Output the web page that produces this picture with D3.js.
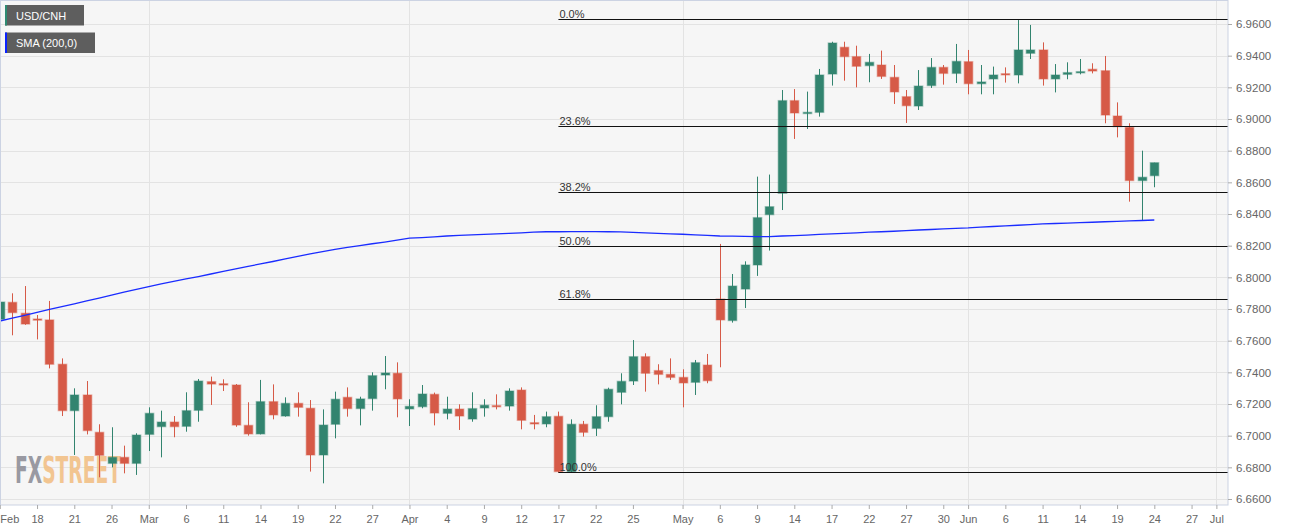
<!DOCTYPE html>
<html>
<head>
<meta charset="utf-8">
<script src="https://cdn.jsdelivr.net/npm/d3@7"></script>
<style>
  body { margin: 0; background: #fff; }
  svg { display: block; font-family: "Liberation Sans", Arial, sans-serif; }
</style>
</head>
<body>
<svg id="chart"></svg>
<script>
// daily USD/CNH candles, 13 Feb - 24 Jun 2019 (weekdays)
const openPx = [6.7735, 6.7842, 6.7773, 6.7737, 6.7731, 6.7451, 6.7158, 6.7257, 6.7021, 6.6825,
  6.6863, 6.6825, 6.7008, 6.7057, 6.7086, 6.7059, 6.7160, 6.7341, 6.7328, 6.7320,
  6.7065, 6.7011, 6.7215, 6.7124, 6.7204, 6.7173, 6.6878, 6.7072, 6.7242, 6.7171,
  6.7234, 6.7383, 6.7394, 6.7169, 6.7183, 6.7261, 6.7141, 6.7168, 6.7105, 6.7175,
  6.7190, 6.7187, 6.7288, 6.7082, 6.7074, 6.7122, 6.6773, 6.7072, 6.7046, 6.7120,
  6.7274, 6.7345, 6.7499, 6.7411, 6.7387, 6.7368, 6.7337, 6.7446, 6.7863, 6.7727,
  6.7926, 6.8078, 6.8396, 6.8531, 6.9116, 6.9036, 6.9042, 6.9284, 6.9453, 6.9394,
  6.9337, 6.9341, 6.9263, 6.9141, 6.9082, 6.9211, 6.9326, 6.9288, 6.9362, 6.9223,
  6.9253, 6.9286, 6.9278, 6.9415, 6.9436, 6.9253, 6.9282, 6.9293, 6.9314, 6.9305,
  6.9019, 6.8947, 6.8611, 6.8642];
const highPx = [6.7862, 6.7899, 6.7945, 6.7762, 6.7851, 6.7488, 6.7299, 6.7345, 6.7072, 6.7053,
  6.6937, 6.7015, 6.7179, 6.7158, 6.7124, 6.7274, 6.7358, 6.7373, 6.7356, 6.7326,
  6.7211, 6.7352, 6.7324, 6.7242, 6.7274, 6.7225, 6.7166, 6.7278, 6.7305, 6.7246,
  6.7400, 6.7503, 6.7463, 6.7230, 6.7320, 6.7272, 6.7246, 6.7198, 6.7274, 6.7230,
  6.7261, 6.7299, 6.7305, 6.7131, 6.7152, 6.7152, 6.7103, 6.7093, 6.7192, 6.7303,
  6.7394, 6.7604, 6.7520, 6.7451, 6.7488, 6.7419, 6.7478, 6.7516, 6.8211, 6.8021,
  6.8101, 6.8636, 6.8649, 6.9183, 6.9189, 6.9173, 6.9316, 6.9488, 6.9488, 6.9463,
  6.9411, 6.9432, 6.9341, 6.9183, 6.9309, 6.9385, 6.9341, 6.9474, 6.9436, 6.9341,
  6.9331, 6.9326, 6.9625, 6.9594, 6.9484, 6.9347, 6.9358, 6.9379, 6.9352, 6.9398,
  6.9105, 6.8973, 6.8800, 6.8724];
const lowPx = [6.7594, 6.7634, 6.7700, 6.7608, 6.7425, 6.7124, 6.6878, 6.7008, 6.6737, 6.6800,
  6.6762, 6.6752, 6.6903, 6.6863, 6.6990, 6.7025, 6.7088, 6.7194, 6.7282, 6.7056,
  6.7000, 6.7008, 6.7103, 6.7120, 6.7120, 6.6773, 6.6699, 6.6983, 6.7120, 6.7065,
  6.7158, 6.7293, 6.7116, 6.7061, 6.7173, 6.7065, 6.7103, 6.7036, 6.7088, 6.7120,
  6.7166, 6.7158, 6.7040, 6.7040, 6.7053, 6.6766, 6.6768, 6.6994, 6.6998, 6.7088,
  6.7198, 6.7320, 6.7278, 6.7324, 6.7352, 6.7179, 6.7257, 6.7331, 6.7432, 6.7714,
  6.7806, 6.8009, 6.8169, 6.8425, 6.8874, 6.8937, 6.9015, 6.9211, 6.9242, 6.9200,
  6.9232, 6.9253, 6.9095, 6.8975, 6.9057, 6.9196, 6.9217, 6.9227, 6.9156, 6.9156,
  6.9156, 6.9230, 6.9225, 6.9379, 6.9211, 6.9168, 6.9251, 6.9282, 6.9288, 6.8973,
  6.8884, 6.8478, 6.8362, 6.8569];
const closePx = [6.7844, 6.7777, 6.7705, 6.7733, 6.7451, 6.7158, 6.7257, 6.7032, 6.6876, 6.6863,
  6.6825, 6.7004, 6.7141, 6.7086, 6.7057, 6.7158, 6.7345, 6.7326, 6.7320, 6.7067,
  6.7011, 6.7215, 6.7131, 6.7204, 6.7179, 6.6878, 6.7067, 6.7230, 6.7171, 6.7232,
  6.7379, 6.7396, 6.7232, 6.7185, 6.7263, 6.7143, 6.7168, 6.7124, 6.7171, 6.7192,
  6.7183, 6.7282, 6.7097, 6.7074, 6.7120, 6.6773, 6.7072, 6.7021, 6.7120, 6.7293,
  6.7343, 6.7499, 6.7394, 6.7387, 6.7368, 6.7333, 6.7461, 6.7347, 6.7731, 6.7945,
  6.8078, 6.8377, 6.8446, 6.9116, 6.9038, 6.9042, 6.9278, 6.9480, 6.9394, 6.9333,
  6.9358, 6.9269, 6.9171, 6.9084, 6.9208, 6.9326, 6.9288, 6.9364, 6.9223, 6.9234,
  6.9278, 6.9280, 6.9436, 6.9436, 6.9253, 6.9278, 6.9293, 6.9299, 6.9303, 6.9025,
  6.8952, 6.8611, 6.8632, 6.8724];
const sma200 = [6.7724, 6.7742, 6.7760, 6.7779, 6.7797, 6.7815, 6.7833, 6.7851, 6.7869, 6.7887,
  6.7906, 6.7924, 6.7942, 6.7958, 6.7974, 6.7990, 6.8005, 6.8021, 6.8037, 6.8053,
  6.8069, 6.8085, 6.8100, 6.8116, 6.8132, 6.8148, 6.8163, 6.8177, 6.8189, 6.8200,
  6.8212, 6.8223, 6.8235, 6.8247, 6.8251, 6.8256, 6.8261, 6.8265, 6.8268, 6.8271,
  6.8275, 6.8278, 6.8281, 6.8285, 6.8288, 6.8288, 6.8289, 6.8289, 6.8289, 6.8288,
  6.8287, 6.8284, 6.8281, 6.8278, 6.8275, 6.8272, 6.8268, 6.8265, 6.8261, 6.8260,
  6.8259, 6.8257, 6.8257, 6.8261, 6.8264, 6.8267, 6.8271, 6.8274, 6.8278, 6.8281,
  6.8285, 6.8288, 6.8291, 6.8295, 6.8299, 6.8302, 6.8306, 6.8309, 6.8312, 6.8317,
  6.8321, 6.8325, 6.8329, 6.8333, 6.8337, 6.8340, 6.8343, 6.8345, 6.8348, 6.8351,
  6.8354, 6.8356, 6.8359, 6.8362];

const tickDates = ["2019-02-13", "2019-02-18", "2019-02-21", "2019-02-26", "2019-03-01", "2019-03-06",
  "2019-03-11", "2019-03-14", "2019-03-19", "2019-03-22", "2019-03-27", "2019-04-01", "2019-04-04",
  "2019-04-09", "2019-04-12", "2019-04-17", "2019-04-22", "2019-04-25", "2019-05-01", "2019-05-06",
  "2019-05-09", "2019-05-14", "2019-05-17", "2019-05-22", "2019-05-27", "2019-05-30", "2019-06-03",
  "2019-06-06", "2019-06-11", "2019-06-14", "2019-06-19", "2019-06-24", "2019-06-27", "2019-07-01"];
const tickLabels = ["Feb", "18", "21", "26", "Mar", "6", "11", "14", "19", "22", "27", "Apr", "4",
  "9", "12", "17", "22", "25", "May", "6", "9", "14", "17", "22", "27", "30", "Jun",
  "6", "11", "14", "19", "24", "27", "Jul"];
const monthStarts = ["2019-03-01", "2019-04-01", "2019-05-01", "2019-06-03", "2019-07-01"];
const yTicks = [6.66, 6.68, 6.70, 6.72, 6.74, 6.76, 6.78, 6.80, 6.82, 6.84, 6.86, 6.88, 6.90, 6.92, 6.94, 6.96];

const fibRatios = [0, 0.236, 0.382, 0.5, 0.618, 1];
const fibLabels = ["0.0%", "23.6%", "38.2%", "50.0%", "61.8%", "100.0%"];
const fibHigh = 6.9630;
const fibLow = 6.6769;
const fibStart = "2019-04-17";

const W = 1299, H = 528;
const plotW = 1228, plotH = 505;
const up = "#32846f", down = "#d65a47";

// trading calendar (weekdays) out to the right edge of the plot
const fmt = d3.utcFormat("%Y-%m-%d");
const days = d3.utcDay.range(new Date(Date.UTC(2019, 1, 13)), new Date(Date.UTC(2019, 6, 3)))
  .filter(d => d.getUTCDay() % 6 !== 0)
  .map(fmt);
const candleDays = days.slice(0, openPx.length);

const svg = d3.select("#chart")
  .attr("width", W)
  .attr("height", H);

const x = d3.scalePoint()
  .domain(days)
  .range([-0.2, 1228.8]);

const y = d3.scaleLinear()
  .domain([6.66, 6.96])
  .range([499, 24]);

const crisp = v => Math.round(v) + 0.5;

svg.append("rect")
  .attr("width", plotW)
  .attr("height", plotH)
  .attr("fill", "#f6f6f6");

// grid
svg.append("g")
  .selectAll("line")
  .data(yTicks)
  .join("line")
  .attr("x1", 0)
  .attr("x2", plotW)
  .attr("y1", d => crisp(y(d)))
  .attr("y2", d => crisp(y(d)))
  .attr("stroke", "#e3e3e3");

svg.append("g")
  .selectAll("line")
  .data(monthStarts)
  .join("line")
  .attr("x1", d => crisp(x(d)))
  .attr("x2", d => crisp(x(d)))
  .attr("y1", 0)
  .attr("y2", plotH)
  .attr("stroke", "#e3e3e3");

// watermark: one text, squeezed horizontally to the logo's width
const wmG = svg.append("g").attr("opacity", 0.9);
const wm = wmG.append("text")
  .attr("font-family", "'Liberation Sans Narrow', 'DejaVu Sans Condensed', sans-serif")
  .attr("font-weight", "bold")
  .attr("font-size", 37);
wm.append("tspan").attr("fill", "#8f9099").text("FX");
wm.append("tspan").attr("fill", "#f2c087").text("STREET");
const wmLen = wm.node().getComputedTextLength();
wmG.attr("transform", `translate(15,483) scale(${106 / wmLen},1)`);

// candles
const candles = svg.append("g")
  .selectAll("g")
  .data(candleDays)
  .join("g")
  .attr("transform", d => `translate(${crisp(x(d))},0)`);

candles.append("line")
  .attr("y1", (d, i) => y(highPx[i]))
  .attr("y2", (d, i) => y(lowPx[i]))
  .attr("stroke", (d, i) => closePx[i] >= openPx[i] ? up : down)
  .attr("stroke-width", 1);

const bodyW = 8.4;
candles.append("rect")
  .attr("x", -bodyW / 2)
  .attr("y", (d, i) => y(Math.max(openPx[i], closePx[i])))
  .attr("width", bodyW)
  .attr("height", (d, i) => Math.max(1.2, Math.abs(y(openPx[i]) - y(closePx[i]))))
  .attr("fill", (d, i) => closePx[i] >= openPx[i] ? up : down)
  .attr("stroke", (d, i) => closePx[i] >= openPx[i] ? up : down)
  .attr("stroke-opacity", 0.4)
  .attr("stroke-width", 1.4);

// SMA 200
svg.append("path")
  .datum(sma200)
  .attr("fill", "none")
  .attr("stroke", "#1a2cff")
  .attr("stroke-width", 1.3)
  .attr("d", d3.line().x((d, i) => x(candleDays[i])).y(d => y(d)));

// Fibonacci retracement
const fib = svg.append("g")
  .selectAll("g")
  .data(fibRatios)
  .join("g")
  .attr("transform", d => `translate(0,${crisp(y(fibHigh - d * (fibHigh - fibLow)))})`);

fib.append("line")
  .attr("x1", x(fibStart))
  .attr("x2", plotW)
  .attr("stroke", "#111");

fib.append("text")
  .attr("x", x(fibStart) + 1)
  .attr("y", -2)
  .attr("font-size", 11)
  .attr("fill", "#333")
  .text((d, i) => fibLabels[i]);

// frame
svg.append("rect")
  .attr("x", 0.5).attr("y", 0.5)
  .attr("width", plotW - 0.5).attr("height", plotH - 0.5)
  .attr("fill", "none")
  .attr("stroke", "#ccd3e3");

// axes
const yAxis = svg.append("g")
  .attr("transform", `translate(${plotW},0)`)
  .call(d3.axisRight(y).tickValues(yTicks).tickSize(4).tickPadding(4).tickFormat(d3.format(".4f")));
yAxis.select(".domain").remove();
yAxis.selectAll("line").attr("stroke", "#aaa");
yAxis.selectAll("text").attr("fill", "#666").attr("font-size", 11.5).attr("font-family", null);

const xAxis = svg.append("g")
  .attr("transform", `translate(0,${plotH})`)
  .call(d3.axisBottom(x).tickValues(tickDates).tickSize(4).tickPadding(6).tickFormat((d, i) => tickLabels[i]));
xAxis.select(".domain").remove();
xAxis.selectAll("line").attr("stroke", "#aaa");
xAxis.selectAll("text").attr("fill", "#666").attr("font-size", 11).attr("font-family", null);
xAxis.select(".tick text").attr("text-anchor", "start").attr("x", 0);

// legend
const legendItems = [["USD/CNH", "#2e8a72", 79], ["SMA (200,0)", "#0a22ff", 90]];
const legend = svg.append("g")
  .selectAll("g")
  .data(legendItems)
  .join("g")
  .attr("transform", (d, i) => `translate(5,${5 + i * 27.5})`);
legend.append("rect")
  .attr("width", d => d[2]).attr("height", 20.5)
  .attr("fill", "#5e5e5e");
legend.append("rect")
  .attr("width", 2).attr("height", 20.5)
  .attr("fill", d => d[1]);
legend.append("text")
  .attr("x", 11).attr("y", 14.5)
  .attr("font-size", 11)
  .attr("fill", "#fff")
  .text(d => d[0]);
</script>
</body>
</html>
